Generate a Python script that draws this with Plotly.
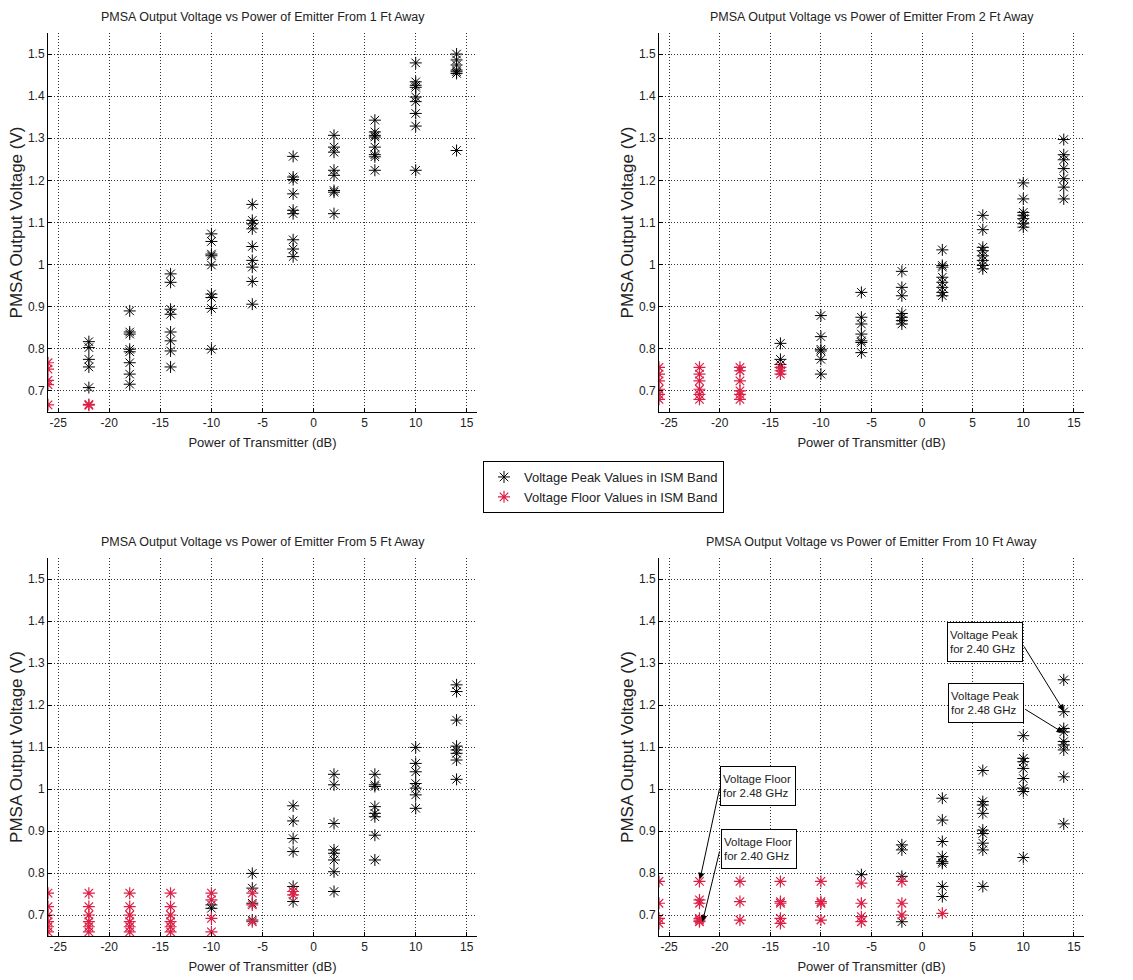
import plotly.graph_objects as go
from plotly.subplots import make_subplots

# Transmitter power settings (dB) at which the PMSA output was sampled
power_db = [-26, -22, -18, -14, -10, -6, -2, 2, 6, 10, 14]

x_tick_vals = [-25, -20, -15, -10, -5, 0, 5, 10, 15]
x_tick_text = ["-25", "-20", "-15", "-10", "-5", "0", "5", "10", "15"]
y_tick_vals = [0.7, 0.8, 0.9, 1.0, 1.1, 1.2, 1.3, 1.4, 1.5]
y_tick_text = ["0.7", "0.8", "0.9", "1", "1.1", "1.2", "1.3", "1.4", "1.5"]

# Voltage readings (V) per power level, one list per power setting
peak_1ft = [
    [],
    [0.817, 0.803, 0.775, 0.757, 0.708],
    [0.890, 0.840, 0.835, 0.799, 0.793, 0.767, 0.740, 0.716],
    [0.978, 0.958, 0.894, 0.882, 0.840, 0.819, 0.795, 0.757],
    [1.073, 1.055, 1.025, 1.021, 0.999, 0.930, 0.922, 0.896, 0.799],
    [1.143, 1.105, 1.097, 1.085, 1.043, 1.010, 0.994, 0.960, 0.906],
    [1.257, 1.208, 1.202, 1.168, 1.129, 1.121, 1.059, 1.037, 1.019],
    [1.307, 1.279, 1.267, 1.224, 1.212, 1.176, 1.172, 1.121],
    [1.343, 1.315, 1.307, 1.303, 1.279, 1.261, 1.256, 1.224],
    [1.479, 1.434, 1.426, 1.421, 1.398, 1.387, 1.359, 1.329, 1.224],
    [1.500, 1.486, 1.474, 1.462, 1.458, 1.454, 1.271],
]
floor_1ft = [
    [0.767, 0.752, 0.725, 0.715, 0.667],
    [0.668, 0.666],
    [], [], [], [], [], [], [], [], [],
]

peak_2ft = [
    [], [], [],
    [0.813, 0.775, 0.763],
    [0.879, 0.829, 0.799, 0.795, 0.775, 0.740],
    [0.934, 0.875, 0.859, 0.835, 0.819, 0.815, 0.791],
    [0.984, 0.946, 0.926, 0.884, 0.875, 0.867, 0.859],
    [1.035, 0.998, 0.994, 0.970, 0.958, 0.946, 0.934, 0.926],
    [1.117, 1.083, 1.041, 1.033, 1.021, 1.010, 0.998, 0.990],
    [1.194, 1.156, 1.124, 1.117, 1.109, 1.097, 1.089],
    [1.297, 1.261, 1.249, 1.228, 1.204, 1.184, 1.156],
]
floor_2ft = [
    [0.756, 0.740, 0.724, 0.704, 0.692, 0.680],
    [0.756, 0.740, 0.724, 0.704, 0.692, 0.680],
    [0.756, 0.748, 0.724, 0.700, 0.692, 0.680],
    [0.756, 0.748, 0.740],
    [], [], [], [], [], [], [],
]

peak_5ft = [
    [], [], [], [],
    [0.724, 0.716],
    [0.799, 0.764, 0.728, 0.688],
    [0.960, 0.924, 0.882, 0.851, 0.768, 0.732],
    [1.035, 1.010, 0.918, 0.855, 0.847, 0.831, 0.803, 0.756],
    [1.035, 1.010, 1.006, 0.958, 0.942, 0.934, 0.890, 0.831],
    [1.099, 1.061, 1.041, 1.013, 1.002, 0.986, 0.954],
    [1.248, 1.232, 1.164, 1.102, 1.093, 1.085, 1.069, 1.023],
]
floor_5ft = [
    [0.752, 0.720, 0.700, 0.684, 0.672, 0.660],
    [0.752, 0.720, 0.700, 0.684, 0.672, 0.660],
    [0.752, 0.720, 0.700, 0.684, 0.672, 0.660],
    [0.752, 0.720, 0.700, 0.684, 0.672, 0.660],
    [0.752, 0.736, 0.692, 0.660],
    [0.752, 0.724, 0.684],
    [0.756, 0.748],
    [], [], [], [],
]

peak_10ft = [
    [], [], [], [], [],
    [0.796],
    [0.867, 0.855, 0.792, 0.684],
    [0.978, 0.926, 0.875, 0.839, 0.827, 0.823, 0.768, 0.744],
    [1.044, 0.970, 0.962, 0.942, 0.902, 0.894, 0.871, 0.855, 0.768],
    [1.127, 1.073, 1.065, 1.049, 1.025, 1.002, 0.994, 0.837],
    [1.260, 1.184, 1.144, 1.136, 1.113, 1.105, 1.093, 1.029, 0.917],
]
floor_10ft = [
    [0.780, 0.728, 0.692, 0.680],
    [0.780, 0.736, 0.728, 0.692, 0.688, 0.684],
    [0.780, 0.732, 0.688],
    [0.780, 0.732, 0.728, 0.692, 0.680],
    [0.780, 0.732, 0.728, 0.688],
    [0.776, 0.728, 0.696, 0.684],
    [0.780, 0.728, 0.700],
    [0.704],
    [], [], [],
]

distances_ft = [1, 2, 5, 10]
peak_sets = [peak_1ft, peak_2ft, peak_5ft, peak_10ft]
floor_sets = [floor_1ft, floor_2ft, floor_5ft, floor_10ft]

# Callouts in the 10 ft panel
callout_text = ["Voltage Peak<br>for 2.40 GHz", "Voltage Peak<br>for 2.48 GHz",
                "Voltage Floor<br>for 2.48 GHz", "Voltage Floor<br>for 2.40 GHz"]
callout_box_x = [6.25, 6.3, -16.2, -16.15]
callout_box_y = [1.350, 1.205, 1.006, 0.858]
arrow_tail_x = [9.98, 10.04, -19.98, -19.98]
arrow_tail_y = [1.343, 1.192, 1.005, 0.855]
arrow_head_x = [14.0, 13.95, -21.95, -21.7]
arrow_head_y = [1.186, 1.134, 0.785, 0.684]

FONT = "Liberation Sans, Arial, sans-serif"
TEXT_COLOR = "#222222"
PEAK_COLOR = "#000000"
FLOOR_COLOR = "#dc1f45"
W, H = 1133, 980


def flatten(levels, groups):
    xs, ys = [], []
    for x, g in zip(levels, groups):
        xs.extend([x] * len(g))
        ys.extend(g)
    return xs, ys


fig = make_subplots(rows=2, cols=2)

positions = [(1, 1), (1, 2), (2, 1), (2, 2)]
for i, (dist, peaks, floors) in enumerate(zip(distances_ft, peak_sets, floor_sets)):
    r, c = positions[i]
    px_, py_ = flatten(power_db, peaks)
    fx_, fy_ = flatten(power_db, floors)
    fig.add_trace(go.Scatter(
        x=px_, y=py_, mode="markers", name="Voltage Peak Values in ISM Band",
        legendgroup="peak", showlegend=(i == 0),
        marker=dict(symbol="asterisk-open", size=10, color=PEAK_COLOR,
                    line=dict(color=PEAK_COLOR, width=1)),
    ), row=r, col=c)
    fig.add_trace(go.Scatter(
        x=fx_, y=fy_, mode="markers", name="Voltage Floor Values in ISM Band",
        legendgroup="floor", showlegend=(i == 0),
        marker=dict(symbol="asterisk-open", size=10, color=FLOOR_COLOR,
                    line=dict(color=FLOOR_COLOR, width=1.2)),
    ), row=r, col=c)

col_domains = [[48 / W, 477 / W], [659 / W, 1084 / W]]
row_domains = [[1 - 412 / H, 1 - 33 / H], [1 - 936 / H, 1 - 558 / H]]

axis_common = dict(
    showline=True, linecolor="black", linewidth=1, mirror=False,
    ticks="inside", ticklen=4, tickcolor="black", tickwidth=1,
    showgrid=True, gridcolor="#333333", griddash="1px,2px", gridwidth=1,
    zeroline=False, tickfont=dict(family=FONT, size=12, color=TEXT_COLOR),
)

for i in range(4):
    r, c = positions[i]
    idx = "" if i == 0 else str(i + 1)
    fig.layout["xaxis" + idx].update(
        domain=col_domains[c - 1], range=[-26, 16],
        tickvals=x_tick_vals, ticktext=x_tick_text,
        title=dict(text="Power of Transmitter (dB)", standoff=8,
                   font=dict(family=FONT, size=13, color=TEXT_COLOR)),
        **axis_common)
    fig.layout["yaxis" + idx].update(
        domain=row_domains[r - 1], range=[0.65, 1.55], tickvals=y_tick_vals,
        ticktext=y_tick_text,
        title=dict(text="PMSA Output Voltage (V)", standoff=0,
                   font=dict(family=FONT, size=17, color=TEXT_COLOR)),
        **axis_common)
    fig.add_annotation(
        text=f"PMSA Output Voltage vs Power of Emitter From {distances_ft[i]} Ft Away",
        xref="paper", yref="paper",
        x=sum(col_domains[c - 1]) / 2, y=(1 - 17 / H) if r == 1 else (1 - 542 / H),
        xanchor="center", yanchor="middle", showarrow=False,
        font=dict(family=FONT, size=12.5, color=TEXT_COLOR),
    )

for t, bx, by in zip(callout_text, callout_box_x, callout_box_y):
    fig.add_annotation(
        text=t, x=bx, y=by, xref="x4", yref="y4", showarrow=False,
        xanchor="center", yanchor="middle", align="left",
        width=70, height=34, bgcolor="white", bordercolor="black",
        borderwidth=1, borderpad=2,
        font=dict(family=FONT, size=11.5, color=TEXT_COLOR),
    )

for tx, ty, hx, hy in zip(arrow_tail_x, arrow_tail_y, arrow_head_x, arrow_head_y):
    fig.add_annotation(
        text="", x=hx, y=hy, xref="x4", yref="y4",
        ax=tx, ay=ty, axref="x4", ayref="y4",
        showarrow=True, arrowhead=2, arrowsize=1.3, arrowwidth=1,
        arrowcolor="black", standoff=0,
    )

fig.update_layout(
    width=W, height=H, margin=dict(l=0, r=0, t=0, b=0),
    paper_bgcolor="white", plot_bgcolor="white",
    font=dict(family=FONT, color=TEXT_COLOR),
    legend=dict(
        x=483 / W, y=1 - 461 / H, xanchor="left", yanchor="top",
        bordercolor="black", borderwidth=1, bgcolor="white",
        font=dict(family=FONT, size=13, color=TEXT_COLOR),
        tracegroupgap=0,
    ),
)

fig.write_html("out.html")
